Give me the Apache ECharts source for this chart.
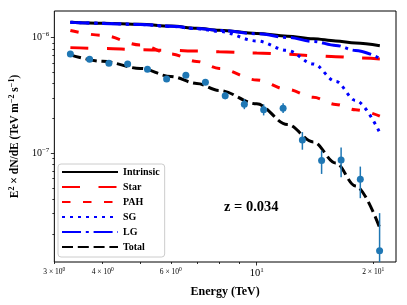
<!DOCTYPE html>
<html><head><meta charset="utf-8">
<script src="https://cdn.jsdelivr.net/npm/echarts@6/dist/echarts.min.js"></script>
<style>html,body{margin:0;padding:0;background:#fff}#c{width:407px;height:305px}</style>
</head><body><div id="c"></div>
<script>
// ---- data ----
const energy = [3.30, 3.70, 4.15, 4.64, 5.22, 5.85, 6.56, 7.37, 8.29, 9.29, 10.42, 11.70, 13.12, 14.71, 16.52, 18.52, 20.77];
const flux = [7.23e-7, 6.50e-7, 6.00e-7, 5.92e-7, 5.32e-7, 4.39e-7, 4.73e-7, 4.11e-7, 3.13e-7, 2.65e-7, 2.37e-7, 2.45e-7, 1.30e-7, 8.61e-8, 8.73e-8, 5.94e-8, 1.43e-8];
const fluxLow = [7.08e-7, 6.36e-7, 5.87e-7, 5.79e-7, 5.20e-7, 4.28e-7, 4.60e-7, 3.91e-7, 2.92e-7, 2.40e-7, 2.12e-7, 2.22e-7, 1.07e-7, 6.60e-8, 6.18e-8, 4.07e-8, 1e-9];
const fluxHigh = [7.39e-7, 6.65e-7, 6.14e-7, 6.06e-7, 5.45e-7, 4.50e-7, 4.86e-7, 4.32e-7, 3.35e-7, 2.93e-7, 2.64e-7, 2.70e-7, 1.52e-7, 1.05e-7, 1.12e-7, 7.64e-8, 3.02e-8];

const modelEnergy = [3.3, 4, 5, 6, 7, 8, 10, 12, 14, 16, 18, 20.8];
const intrinsic = [1.359e-6, 1.332e-6, 1.304e-6, 1.258e-6, 1.206e-6, 1.159e-6, 1.087e-6, 1.028e-6, 9.78e-7, 9.36e-7, 8.96e-7, 8.52e-7];
const star = [8.19e-7, 8.05e-7, 7.87e-7, 7.75e-7, 7.64e-7, 7.55e-7, 7.37e-7, 7.18e-7, 6.99e-7, 6.84e-7, 6.68e-7, 6.54e-7];
const pah = [1.154e-6, 1.045e-6, 8.65e-7, 7.23e-7, 6.22e-7, 5.41e-7, 4.30e-7, 3.56e-7, 3.04e-7, 2.64e-7, 2.37e-7, 2.09e-7];
const sg = [1.359e-6, 1.332e-6, 1.298e-6, 1.250e-6, 1.194e-6, 1.132e-6, 9.36e-7, 7.75e-7, 5.92e-7, 4.18e-7, 2.86e-7, 1.50e-7];
const lg = [1.355e-6, 1.328e-6, 1.300e-6, 1.254e-6, 1.202e-6, 1.155e-6, 1.081e-6, 1.004e-6, 9.27e-7, 8.56e-7, 7.75e-7, 6.63e-7];
const total = [7.08e-7, 6.23e-7, 5.41e-7, 4.61e-7, 4.01e-7, 3.49e-7, 2.67e-7, 1.77e-7, 1.25e-7, 8.22e-8, 5.20e-8, 2.24e-8];

const xRange = [3, 22.9];
const yRange = [1.14e-8, 1.70e-6];
const xTicksMinor = [3, 4, 5, 6, 7, 8, 9, 20];
const xLabelsMinor = [3, 4, 6, 20];
const xTicksMajor = [10];
const yTicksMinor = [2e-8, 3e-8, 4e-8, 5e-8, 6e-8, 7e-8, 8e-8, 9e-8, 2e-7, 3e-7, 4e-7, 5e-7, 6e-7, 7e-7, 8e-7, 9e-7];
const yTicksMajor = [1e-7, 1e-6];

const FONT = 'Liberation Serif';
const L = Math.log10;
const pair = (xs, ys) => xs.map((x, i) => [x, ys[i]]);

const chart = echarts.init(document.getElementById('c'), null, {renderer: 'canvas'});
const grid = {left: 52, top: 11, width: 344, height: 251, show: true, borderColor: '#000', borderWidth: 1, backgroundColor: 'transparent'};

function xMinorFmt(v) {
  const n = Math.round(Math.pow(10, v) * 1000) / 1000;
  if (n >= 10) return '{b|' + (n / 10) + ' × 10}{s|1}';
  return '{b|' + n + ' × 10}{s|0}';
}
function yMajorFmt(v) {
  return '{b|10}{s|−' + Math.round(-v) + '}';
}

function lineSeries(name, ys, color, type, width) {
  return {
    name, type: 'line', xAxisIndex: 0, yAxisIndex: 0,
    data: pair(modelEnergy, ys), symbol: 'none', smooth: 0.35, smoothMonotone: 'x',
    lineStyle: {color, width, type, cap: 'butt'}, itemStyle: {color}, z: 2, silent: true
  };
}

const option = {
  animation: false,
  backgroundColor: '#fff',
  grid,
  title: {text: 'z = 0.034', left: 224, top: 200, padding: 0,
    textStyle: {fontFamily: FONT, fontWeight: 'bold', fontSize: 14.5, color: '#000'}},
  legend: {
    left: 58, top: 164, orient: 'vertical',
    padding: [3, 5, 5, 3], itemWidth: 56, itemHeight: 10, itemGap: 5,
    backgroundColor: '#fff', borderColor: '#cccccc', borderWidth: 1, borderRadius: 3,
    itemStyle: {opacity: 0, color: 'rgba(0,0,0,0)', borderWidth: 0},
    textStyle: {fontFamily: FONT, fontWeight: 'bold', fontSize: 10, color: '#000'},
    data: ['Intrinsic', 'Star', 'PAH', 'SG', 'LG', 'Total']
  },
  xAxis: [
    {type: 'log', min: xRange[0], max: xRange[1], show: false},
    {type: 'value', min: L(xRange[0]), max: L(xRange[1]), position: 'bottom',
      axisLine: {show: false}, splitLine: {show: false},
      axisTick: {show: true, length: 2, customValues: xTicksMinor.map(L), lineStyle: {color: '#000', width: 0.8}},
      axisLabel: {customValues: xLabelsMinor.map(L), formatter: xMinorFmt, margin: 5, color: '#000',
        rich: {b: {fontFamily: FONT, fontSize: 7.5, color: '#000'}, s: {fontFamily: FONT, fontSize: 5.5, color: '#000', padding: [0, 0, 5, 0]}}}},
    {type: 'value', min: L(xRange[0]), max: L(xRange[1]), position: 'bottom',
      axisLine: {show: false}, splitLine: {show: false},
      axisTick: {show: true, length: 3.5, customValues: xTicksMajor.map(L), lineStyle: {color: '#000', width: 0.8}},
      axisLabel: {customValues: xTicksMajor.map(L), formatter: () => '{b|10}{s|1}', margin: 5, color: '#000',
        rich: {b: {fontFamily: FONT, fontSize: 10.5, color: '#000'}, s: {fontFamily: FONT, fontSize: 7, color: '#000', padding: [0, 0, 6, 0]}}},
      name: 'Energy (TeV)', nameLocation: 'middle', nameGap: 24,
      nameTextStyle: {fontFamily: FONT, fontWeight: 'bold', fontSize: 12, color: '#000'}}
  ],
  yAxis: [
    {type: 'log', min: yRange[0], max: yRange[1], show: false},
    {type: 'value', min: L(yRange[0]), max: L(yRange[1]), position: 'left',
      axisLine: {show: false}, splitLine: {show: false},
      axisTick: {show: true, length: 2, customValues: yTicksMinor.map(L), lineStyle: {color: '#000', width: 0.8}},
      axisLabel: {show: false}},
    {type: 'value', min: L(yRange[0]), max: L(yRange[1]), position: 'left',
      axisLine: {show: false}, splitLine: {show: false},
      axisTick: {show: true, length: 3.5, customValues: yTicksMajor.map(L), lineStyle: {color: '#000', width: 0.8}},
      axisLabel: {customValues: yTicksMajor.map(L), formatter: yMajorFmt, margin: 5, color: '#000',
        rich: {b: {fontFamily: FONT, fontSize: 10, color: '#000'}, s: {fontFamily: FONT, fontSize: 7, color: '#000', padding: [0, 0, 6, 0]}}},
      name: 'E{sp|2} × dN/dE (TeV m{sp|−2} s{sp|−1})', nameLocation: 'middle', nameGap: 31,
      nameTextStyle: {fontFamily: FONT, fontWeight: 'bold', fontSize: 11.5, color: '#000',
        rich: {sp: {fontFamily: FONT, fontWeight: 'bold', fontSize: 8, color: '#000', padding: [0, 0, 6, 0]}}}}
  ],
  series: [
    lineSeries('Intrinsic', intrinsic, '#000000', 'solid', 3),
    lineSeries('Star', star, '#ff0000', [18, 18.5], 3),
    lineSeries('PAH', pah, '#ff0000', [8.5, 12.5], 3),
    lineSeries('SG', sg, '#0000ff', [3, 5], 3),
    lineSeries('LG', lg, '#0000ff', [19, 4.8, 3, 4.8], 3),
    lineSeries('Total', total, '#000000', [11, 4.8], 3),
    {type: 'custom', xAxisIndex: 0, yAxisIndex: 0, silent: true, z: 3,
      data: energy.map((e, i) => [e, fluxLow[i], fluxHigh[i]]),
      renderItem: (params, api) => {
        const x = api.value(0);
        const lo = api.coord([x, api.value(1)]);
        const hi = api.coord([x, api.value(2)]);
        const cs = params.coordSys;
        const yb = Math.min(lo[1], cs.y + cs.height);
        return {type: 'line', shape: {x1: lo[0], y1: yb, x2: hi[0], y2: hi[1]},
          style: {stroke: '#1f77b4', lineWidth: 1.5}};
      }},
    {type: 'scatter', xAxisIndex: 0, yAxisIndex: 0, silent: true, z: 4,
      data: pair(energy, flux), symbol: 'circle', symbolSize: 7,
      itemStyle: {color: '#1f77b4', opacity: 1}}
  ]
};
chart.setOption(option);
</script>
</body></html>
